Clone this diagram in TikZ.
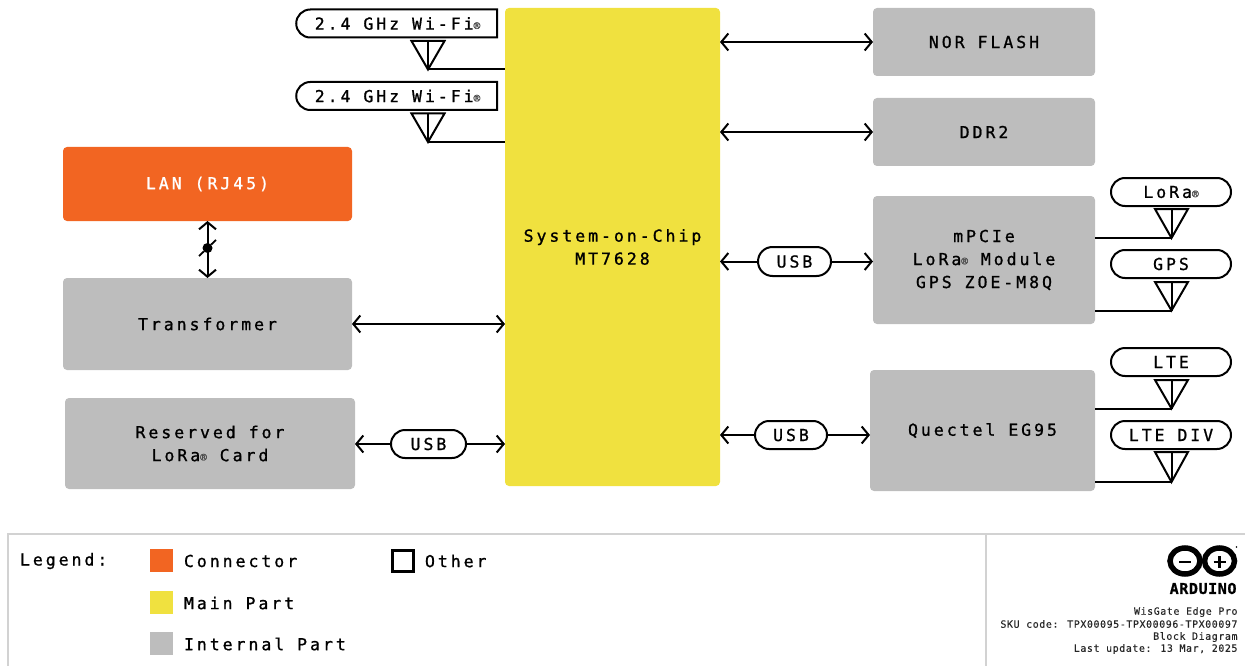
\documentclass[tikz,border=0pt]{standalone}
\usepackage{fontspec}
\setmainfont[LetterSpace=18,FakeBold=1]{DejaVu Sans Mono}
\newfontfamily\footfont[LetterSpace=5.5,FakeBold=0.2]{DejaVu Sans Mono}
\newfontfamily\logofont[FakeBold=0.8,LetterSpace=4]{DejaVu Sans Mono Bold}
\usetikzlibrary{arrows.meta,shapes.misc}
\definecolor{socyellow}{HTML}{F0E13F}
\definecolor{lanorange}{HTML}{F26522}
\definecolor{partgray}{HTML}{BDBDBD}
\definecolor{rulegray}{HTML}{D2D2D2}
\newcommand{\regmark}{{\fontsize{11}{11}\selectfont\textcolor{black!70}{®}}}
\tikzset{
  x=1pt,y=-1pt,
  every node/.style={font=\fontsize{16.5}{23}\selectfont,inner sep=0pt,outer sep=0pt,align=center,text=black},
  partw/.style n args={2}{rectangle,rounded corners=4pt,minimum width=#1,minimum height=#2},
  grayb/.style={fill=partgray},
  pill/.style n args={2}{rounded rectangle,draw=black,line width=2pt,fill=white,minimum width=#1,minimum height=#2},
  wifipill/.style={rounded rectangle,rounded rectangle east arc=none,draw=black,line width=2pt,fill=white,minimum width=201pt,minimum height=28pt},
  conn/.style={line width=2pt,draw=black},
  biarrow/.style={conn,{Straight Barb[length=7pt,width=17pt,line width=2pt]}-{Straight Barb[length=7pt,width=17pt,line width=2pt]}},
  onearrow/.style={conn,-{Straight Barb[length=7pt,width=17pt,line width=2pt]}},
  antenna/.style={line width=2pt,draw=black,line join=miter},
  swatch/.style={rectangle,minimum width=23pt,minimum height=23pt},
  legendtext/.style={anchor=west},
  foottext/.style={anchor=east,font=\footfont\fontsize{10}{12}\selectfont,text=black!85},
  framerule/.style={line width=1.5pt,draw=rulegray},
}
\begin{document}
\begin{tikzpicture}
\useasboundingbox (0,0) rectangle (1245,666);
% main blocks
\node[partw={215pt}{478pt},fill=socyellow] (soc) at (612.5,247) {System-on-Chip\\MT7628};
\node[partw={222pt}{68pt},grayb] (nor) at (984,42) {NOR FLASH};
\node[partw={222pt}{68pt},grayb] (ddr) at (984,132) {DDR2};
\node[partw={222pt}{128pt},grayb] (mpcie) at (984,260) {mPCIe\\LoRa\regmark{} Module\\GPS ZOE-M8Q};
\node[partw={225pt}{121pt},grayb] (quectel) at (982.5,430.5) {\raisebox{-1pt}{Quectel EG95}};
\node[partw={289pt}{74pt},fill=lanorange,text=white] (lan) at (207.5,184) {\raisebox{-1.5pt}{LAN (RJ45)}};
\node[partw={289pt}{92pt},grayb] (trans) at (207.5,324) {Transformer};
\node[partw={290pt}{91pt},grayb] (res) at (210,443.5) {Reserved for\\LoRa\regmark{} Card};
% pills
\node[wifipill] (wifia) at (397.5,23.5) {2.4 GHz Wi-Fi\regmark};
\node[wifipill] (wifib) at (397.5,96) {2.4 GHz Wi-Fi\regmark};
\node[pill={120pt}{28pt}] (lora) at (1171,192) {LoRa\regmark};
\node[pill={120pt}{28pt}] (gps) at (1171,264) {GPS};
\node[pill={120pt}{28pt}] (lte) at (1171,362) {LTE};
\node[pill={120pt}{28pt}] (ltediv) at (1171,435) {LTE DIV};
\node[pill={73pt}{29pt}] (usba) at (794.5,261.5) {USB};
\node[pill={72pt}{28pt}] (usbb) at (791,435) {USB};
\node[pill={75pt}{28pt}] (usbc) at (428.5,444) {USB};
% connectors
\draw[biarrow] (soc.east |- nor.west) -- (nor.west);
\draw[biarrow] (soc.east |- ddr.west) -- (ddr.west);
\draw[onearrow] (usba.west) -- (soc.east |- usba.west);
\draw[onearrow] (usba.east) -- (mpcie.west |- usba.east);
\draw[onearrow] (usbb.west) -- (soc.east |- usbb.west);
\draw[onearrow] (usbb.east) -- (quectel.west |- usbb.east);
\draw[biarrow] (trans.east) -- (soc.west |- trans.east);
\draw[onearrow] (usbc.west) -- (res.east |- usbc.west);
\draw[onearrow] (usbc.east) -- (soc.west |- usbc.east);
\draw[biarrow] (lan.south) -- (lan.south |- trans.north);
% bus mark
\node[circle,fill=black,minimum size=10pt] (busdot) at (207.5,248) {};
\coordinate (busa) at (199,256);
\coordinate (busb) at (216,240);
\draw[line width=1.8pt] (busa) -- (busdot) -- (busb);
% antennas
\foreach \name/\cx/\ty/\tipy in {ana/428/41/69.5, anb/428/113.5/142, anc/1171.5/209/238, and/1171.5/282/310.5, ane/1171.5/380/408.5, anf/1171.5/452/482}{
  \coordinate (\name tip) at (\cx,\tipy);
  \coordinate (\name l) at (\cx-16.5,\ty);
  \coordinate (\name r) at (\cx+16.5,\ty);
  \coordinate (\name m) at (\cx,\ty);
  \draw[antenna] (\name l) -- (\name r) -- (\name tip) -- cycle;
  \draw[antenna] (\name m) -- (\name tip);
}
\draw[conn] (anatip) -- (soc.west |- anatip);
\draw[conn] (anbtip) -- (soc.west |- anbtip);
\draw[conn] (anctip) -- (mpcie.east |- anctip);
\draw[conn] (andtip) -- (mpcie.east |- andtip);
\draw[conn] (anetip) -- (quectel.east |- anetip);
\draw[conn] (anftip) -- (quectel.east |- anftip);
% legend frame
\coordinate (fa) at (8,666);
\coordinate (fb) at (8,534);
\coordinate (fc) at (1245,534);
\coordinate (fd) at (986,534);
\coordinate (fe) at (986,666);
\draw[framerule] (fa) -- (fb) -- (fc);
\draw[framerule] (fd) -- (fe);
% legend
\node[legendtext] (leg) at (20,561) {Legend:};
\node[swatch,fill=lanorange] (sw1) at (161.5,560.5) {};
\node[legendtext] (lt1) at (184,561) {Connector};
\node[swatch,fill=socyellow] (sw2) at (161.5,602.5) {};
\node[legendtext] (lt2) at (184,603) {Main Part};
\node[swatch,fill=partgray] (sw3) at (161.5,643.5) {};
\node[legendtext] (lt3) at (184,644) {Internal Part};
\node[rectangle,draw=black,line width=2.4pt,minimum width=21pt,minimum height=21pt] (sw4) at (403,561) {};
\node[legendtext] (lt4) at (425,561) {Other};
% logo
\draw[line width=5.5pt] (1185,561) ellipse (15 and 13);
\draw[line width=5.5pt] (1219.5,561) ellipse (15 and 13);
\draw[line width=2.6pt] (1179,562) -- (1191,562);
\draw[line width=2.6pt] (1213.5,562) -- (1225.5,562);
\draw[line width=2.6pt] (1219.5,556) -- (1219.5,568);
\fill (1236.5,547) circle (0.8);
\node[anchor=east,font=\logofont\fontsize{15}{15}\selectfont] (brand) at (1236.5,588.5) {ARDUINO};
% footer
\node[foottext] (f1) at (1237.5,612) {WisGate Edge Pro};
\node[foottext] (f2) at (1237.5,624) {SKU code: TPX00095-TPX00096-TPX00097};
\node[foottext] (f3) at (1237.5,637) {Block Diagram};
\node[foottext] (f4) at (1237.5,649) {Last update: 13 Mar, 2025};
\end{tikzpicture}
\end{document}
